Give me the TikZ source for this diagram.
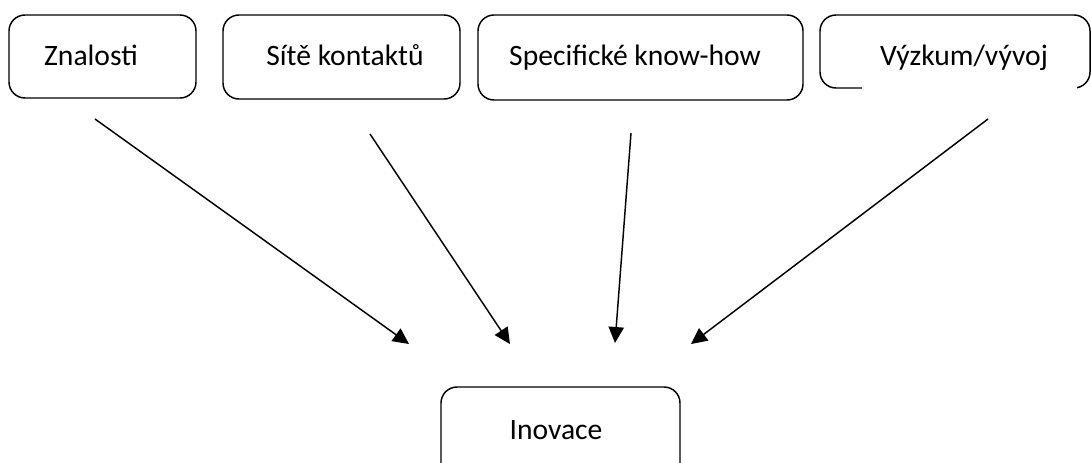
\documentclass[tikz,border=0pt]{standalone}
\usepackage{fontspec}
\setmainfont{Carlito}
\usetikzlibrary{arrows.meta}
\tikzset{
  boxline/.style={line width=1.1pt, rounded corners=12pt},
  lbl/.style={anchor=base, inner sep=0pt, font=\fontsize{22.2pt}{26pt}\selectfont},
  arr/.style={line width=1.1pt, -{Triangle[length=12pt,width=11.5pt]}},
  anchorpt/.style={inner sep=0pt, minimum size=0pt}
}
\begin{document}
\begin{tikzpicture}[x=0.75pt,y=-0.75pt]
\useasboundingbox (0,0) rectangle (1091,462);
\clip (0,0) rectangle (1091,462);
% boxes
\draw[boxline] (9,15) rectangle (196,98);
\node[anchorpt] (b1) at (102.5,56.5) {};
\draw[boxline] (223,15) rectangle (460,99);
\node[anchorpt] (b2) at (341.5,57) {};
\draw[boxline] (478,15) rectangle (803,100);
\node[anchorpt] (b3) at (640.5,57.5) {};
\draw[boxline] (820,15) rectangle (1090,88);
\draw[white, line width=3pt] (862,88) -- (1077,88);
\node[anchorpt] (b4) at (955,51.5) {};
\draw[boxline] (441,387) rectangle (680,490);
\node[anchorpt] (b5) at (560.5,430) {};
% labels
\node[lbl] (t1) at (91,65) {Znalosti};
\node[lbl] (t2) at (345,65) {Sítě kontaktů};
\node[lbl] (t3) at (635,65) {Specifické know-how};
\node[lbl] (t4) at (964,65) {Výzkum/vývoj};
\node[lbl] (t5) at (556,439) {Inovace};
% connector ends
\coordinate (s1) at (95,119);
\coordinate (s2) at (370,134);
\coordinate (s3) at (631,133);
\coordinate (s4) at (988,119);
\coordinate (e1) at (409,344);
\coordinate (e2) at (510,344);
\coordinate (e3) at (615,343);
\coordinate (e4) at (691,344);
\draw[arr] (s1) -- (e1);
\draw[arr] (s2) -- (e2);
\draw[arr] (s3) -- (e3);
\draw[arr] (s4) -- (e4);
\end{tikzpicture}
\end{document}
